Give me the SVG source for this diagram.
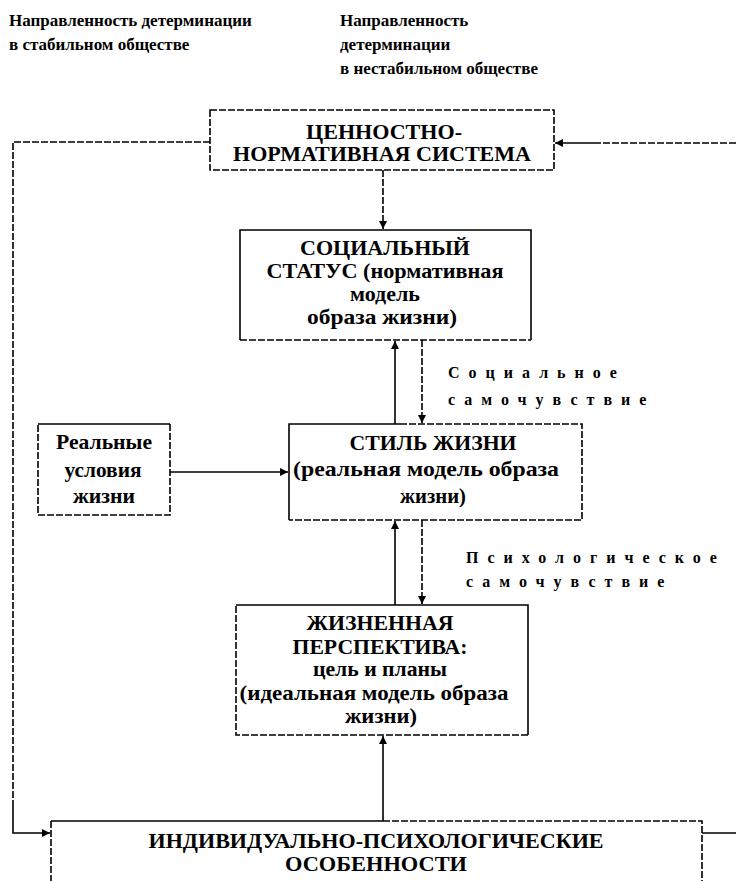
<svg xmlns="http://www.w3.org/2000/svg" width="736" height="881" viewBox="0 0 736 881" font-family="'Liberation Serif','Times New Roman',serif">
<defs>
<marker id="ah" viewBox="0 0 10 10" refX="10" refY="5" markerWidth="8" markerHeight="8" markerUnits="userSpaceOnUse" orient="auto">
<path d="M0,0 L10,5 L0,10 z" fill="#000"/>
</marker>
</defs>
<style>
text{font-family:'Liberation Serif','Times New Roman',serif;font-weight:bold;fill:#000}
.t{font-size:21px;text-anchor:middle}
.h{font-size:17px}
.sp{font-size:16px;letter-spacing:9px}
.solid{fill:none;stroke:#000;stroke-width:1.6}
.dash{fill:none;stroke:#000;stroke-width:1.6;stroke-dasharray:7 2}
</style>
<rect width="736" height="881" fill="#fff"/>
<g id="headers">
<text class="h" x="9" y="26">Направленность детерминации</text>
<text class="h" x="9" y="50">в стабильном обществе</text>
<text class="h" x="340" y="26">Направленность</text>
<text class="h" x="340" y="50">детерминации</text>
<text class="h" x="340" y="74">в нестабильном обществе</text>
</g>
<g id="connectors">
<path class="dash" d="M210,142 H13 V800"/>
<path class="solid" d="M13,800 V833 H50" marker-end="url(#ah)"/>
<path class="dash" d="M736,143 H600"/>
<path class="solid" d="M600,143 H555" marker-end="url(#ah)"/>
<path class="dash" d="M383,170 V229" marker-end="url(#ah)"/>
<path class="solid" d="M395,424 V341" marker-end="url(#ah)"/>
<path class="dash" d="M422,340 V423" marker-end="url(#ah)"/>
<path class="solid" d="M170,472 H288" marker-end="url(#ah)"/>
<path class="solid" d="M395,605 V521" marker-end="url(#ah)"/>
<path class="dash" d="M422,520 V604" marker-end="url(#ah)"/>
<path class="solid" d="M383,821 V736" marker-end="url(#ah)"/>
<path class="solid" d="M702,833 H736"/>
</g>
<g id="node-values">
<rect class="dash" x="210" y="110" width="344" height="60"/>
<text class="t" x="384" y="139" textLength="156" lengthAdjust="spacingAndGlyphs">ЦЕННОСТНО-</text>
<text class="t" x="382" y="161" textLength="298" lengthAdjust="spacingAndGlyphs">НОРМАТИВНАЯ СИСТЕМА</text>
</g>
<g id="node-status">
<path class="solid" d="M240,340 V230 H531 V340"/>
<path class="dash" d="M240,340 H531"/>
<text class="t" x="385" y="255" textLength="170" lengthAdjust="spacingAndGlyphs">СОЦИАЛЬНЫЙ</text>
<text class="t" x="385" y="278" textLength="237" lengthAdjust="spacingAndGlyphs">СТАТУС (нормативная</text>
<text class="t" x="385" y="301" textLength="70" lengthAdjust="spacingAndGlyphs">модель</text>
<text class="t" x="382" y="324" textLength="150" lengthAdjust="spacingAndGlyphs">образа жизни)</text>
</g>
<g id="label-social">
<text class="sp" x="448" y="378">Социальное</text>
<text class="sp" x="448" y="405">самочувствие</text>
</g>
<g id="node-conditions">
<path class="solid" d="M38,424 H170"/>
<path class="dash" d="M170,424 V515 H38 V424"/>
<text class="t" x="104" y="449" textLength="96" lengthAdjust="spacingAndGlyphs">Реальные</text>
<text class="t" x="103" y="477" textLength="77" lengthAdjust="spacingAndGlyphs">условия</text>
<text class="t" x="104" y="503" textLength="62" lengthAdjust="spacingAndGlyphs">жизни</text>
</g>
<g id="node-lifestyle">
<path class="solid" d="M289,520 V424 H400"/>
<path class="dash" d="M400,424 H582 V520 H289"/>
<text class="t" x="433" y="450" textLength="167" lengthAdjust="spacingAndGlyphs">СТИЛЬ ЖИЗНИ</text>
<text class="t" x="426" y="476" textLength="266" lengthAdjust="spacingAndGlyphs">(реальная модель образа</text>
<text class="t" x="433" y="503" textLength="66" lengthAdjust="spacingAndGlyphs">жизни)</text>
</g>
<g id="label-psych">
<text class="sp" x="466" y="563">Психологическое</text>
<text class="sp" x="466" y="587">самочувствие</text>
</g>
<g id="node-perspective">
<path class="solid" d="M236,605 H528 V735"/>
<path class="dash" d="M528,735 H236 V605"/>
<text class="t" x="380" y="630" textLength="147" lengthAdjust="spacingAndGlyphs">ЖИЗНЕННАЯ</text>
<text class="t" x="380" y="654" textLength="175" lengthAdjust="spacingAndGlyphs">ПЕРСПЕКТИВА:</text>
<text class="t" x="380" y="676" textLength="134" lengthAdjust="spacingAndGlyphs">цель и планы</text>
<text class="t" x="374" y="700" textLength="269" lengthAdjust="spacingAndGlyphs">(идеальная модель образа</text>
<text class="t" x="381" y="723" textLength="72" lengthAdjust="spacingAndGlyphs">жизни)</text>
</g>
<g id="node-individual">
<path class="solid" d="M51,821 H383"/>
<path class="dash" d="M383,821 H702 V881 M51,821 V881"/>
<text class="t" x="376" y="848" textLength="455" lengthAdjust="spacingAndGlyphs">ИНДИВИДУАЛЬНО-ПСИХОЛОГИЧЕСКИЕ</text>
<text class="t" x="376" y="871" textLength="182" lengthAdjust="spacingAndGlyphs">ОСОБЕННОСТИ</text>
</g>
</svg>
